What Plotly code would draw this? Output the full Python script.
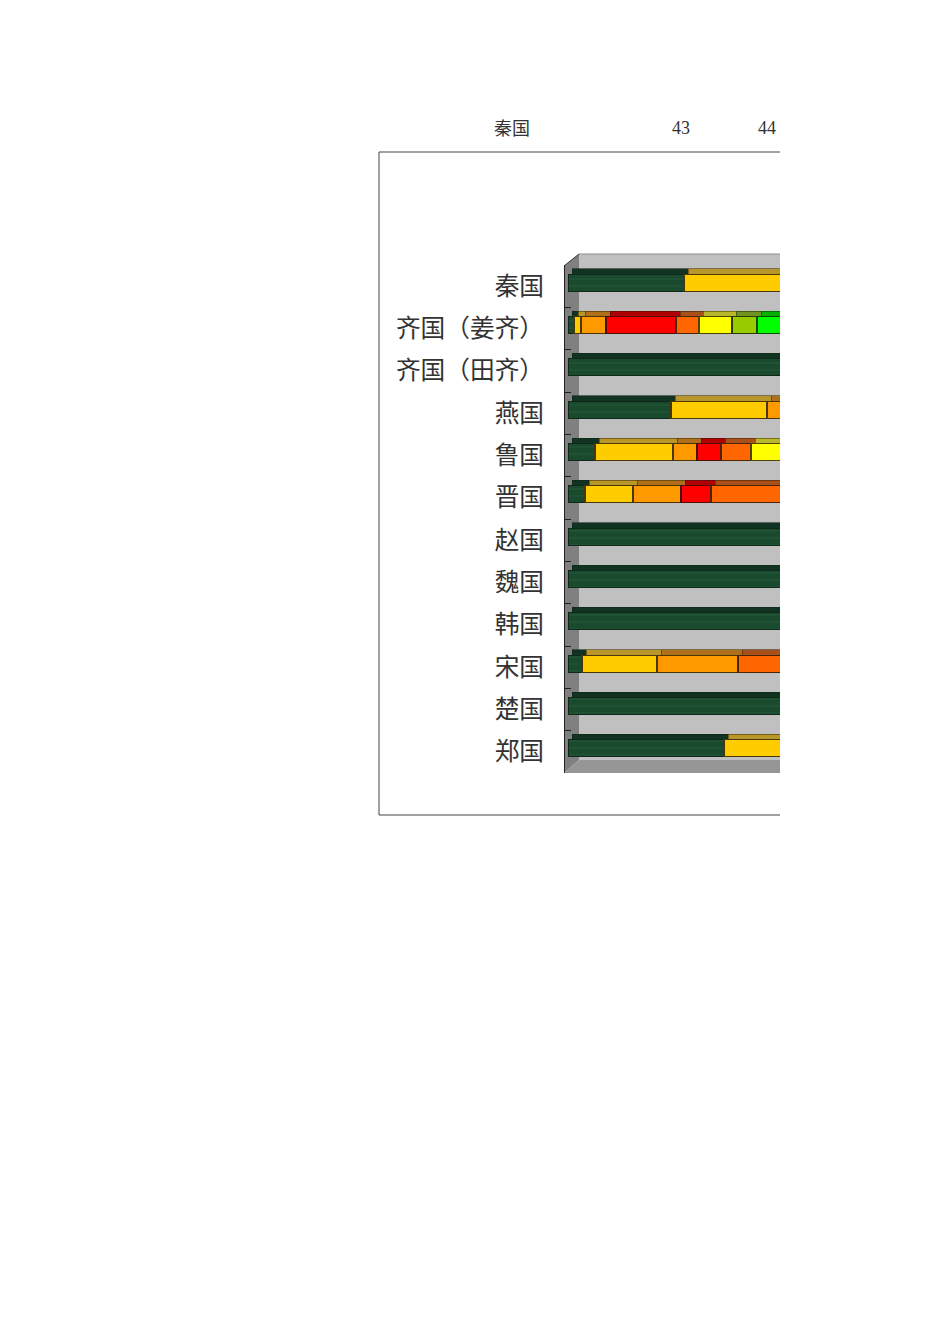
import plotly.graph_objects as go

W, H = 950, 1344

states = ["秦国", "齐国（姜齐）", "齐国（田齐）", "燕国", "鲁国", "晋国", "赵国", "魏国", "韩国", "宋国", "楚国", "郑国"]
top_labels = ["秦国", "43", "44"]

# segment lengths, the chart is cut at its right side so the last ones are estimates
dark_green = [116, 6, 230, 103, 27, 17, 230, 230, 230, 14, 230, 156]
amber = [130, 7, 0, 96, 78, 48, 0, 0, 0, 75, 0, 90]
orange = [0, 25, 0, 40, 24, 48, 0, 0, 0, 81, 0, 0]
red = [0, 70, 0, 0, 24, 30, 0, 0, 0, 0, 0, 0]
dark_orange = [0, 23, 0, 0, 30, 90, 0, 0, 0, 60, 0, 0]
yellow = [0, 33, 0, 0, 40, 0, 0, 0, 0, 0, 0, 0]
yellow_green = [0, 25, 0, 0, 0, 0, 0, 0, 0, 0, 0, 0]
lime = [0, 40, 0, 0, 0, 0, 0, 0, 0, 0, 0, 0]

series = [dark_green, amber, orange, red, dark_orange, yellow, yellow_green, lime]
names = ["dark green", "amber", "orange", "red", "dark orange", "yellow", "yellow green", "lime"]
front_colors = ["#1a4a2e", "#ffcc00", "#ff9900", "#ff0000", "#ff6600", "#ffff00", "#99cc00", "#00ff00"]
top_colors = ["#123322", "#b8962a", "#b06f1a", "#b00000", "#a8501a", "#b8b82a", "#6f9420", "#00b000"]
edge_colors = ["#10281a", "#4a3608", "#4a3608", "#4a1008", "#4a2408", "#4a4408", "#2a3a08", "#084a08"]


def px(x):
    return x / W


def py(y):
    return 1 - y / H


def poly(points, color):
    path = "M " + " L ".join(f"{px(x)},{py(y)}" for x, y in points) + " Z"
    return dict(type="path", xref="paper", yref="paper", path=path, fillcolor=color, line=dict(width=0), layer="below")


def rule(x0, y0, x1, y1, color):
    return dict(type="line", xref="paper", yref="paper", x0=px(x0), x1=px(x1), y0=py(y0), y1=py(y1),
                line=dict(color=color, width=1), layer="below")


fig = go.Figure()

# invisible trace, only there to give the label axis its categories
fig.add_trace(go.Scatter(x=[0] * len(states), y=states, mode="markers", marker=dict(opacity=0),
                         xaxis="x", yaxis="y", showlegend=False, hoverinfo="skip"))

# top faces of the 3D bars, behind the front faces
for vals, name, col, edge in zip(series, names, top_colors, edge_colors):
    fig.add_trace(go.Bar(y=states, x=vals, orientation="h", name=name, marker=dict(color=col, line=dict(color=edge, width=0.6)),
                         xaxis="x2", yaxis="y2", showlegend=False, hoverinfo="skip"))

# front faces
for vals, name, col, edge in zip(series, names, front_colors, edge_colors):
    marker = dict(color=col, line=dict(color=edge, width=1.2))
    if name == "dark green":
        marker["pattern"] = dict(shape="-", fgcolor="#2c6646", size=7, solidity=0.15)
    fig.add_trace(go.Bar(y=states, x=vals, orientation="h", name=name, marker=marker,
                         xaxis="x3", yaxis="y3", showlegend=False))

hidden = dict(visible=False, fixedrange=True)
y_range = [len(states) - 0.5, -0.5]
cat = dict(type="category", categoryorder="array", categoryarray=states, range=y_range)

fig.update_layout(
    width=W, height=H,
    autosize=False,
    margin=dict(l=0, r=0, t=0, b=0),
    paper_bgcolor="white", plot_bgcolor="rgba(0,0,0,0)",
    barmode="stack", bargap=0.6,
    font=dict(family="Noto Sans CJK SC", color="#333333"),
    xaxis=dict(domain=[px(568), px(780)], range=[0, 212], anchor="y", **hidden),
    xaxis2=dict(domain=[px(572), px(780)], range=[0, 208], anchor="y2", **hidden),
    xaxis3=dict(domain=[px(568), px(780)], range=[0, 212], anchor="y3", **hidden),
    yaxis=dict(domain=[py(773), py(265)], anchor="free", position=px(564), side="left",
               showline=True, linecolor="#222222", linewidth=1,
               ticks="inside", ticklen=6, tickcolor="#222222", tickson="boundaries", showgrid=False,
               ticklabelstandoff=15, tickfont=dict(size=24.7, color="#333333"), fixedrange=True, **cat),
    yaxis2=dict(domain=[py(764), py(256)], anchor="x2", **cat, **hidden),
    yaxis3=dict(domain=[py(769.5), py(261.5)], anchor="x3", **cat, **hidden),
)

# frame and 3D walls of the chart
fig.update_layout(shapes=[
    poly([(579, 254), (780, 254), (780, 760), (579, 760)], "#c0c0c0"),
    poly([(564, 266), (579, 254), (579, 760), (564, 773)], "#808080"),
    poly([(564, 773), (579, 760), (780, 760), (780, 773)], "#969696"),
    rule(564, 266, 579, 254, "#333333"),
    rule(579, 254, 780, 254, "#8c8c8c"),
    rule(379, 152, 780, 152, "#444444"),
    rule(379, 815, 780, 815, "#444444"),
    rule(379, 152, 379, 815, "#444444"),
])

# table row above the chart
top_x = [512, 681, 767]
top_y = [127, 128, 128]
top_fonts = ["Noto Sans CJK SC", "Liberation Serif", "Liberation Serif"]
for text, x, y, family in zip(top_labels, top_x, top_y, top_fonts):
    fig.add_annotation(x=px(x), y=py(y), xref="paper", yref="paper", xanchor="center", yanchor="middle",
                       text=text, showarrow=False, font=dict(size=18, color="#333333", family=family))

fig.write_html("out.html", config=dict(displayModeBar=False), post_script="document.body.style.margin='0';")
